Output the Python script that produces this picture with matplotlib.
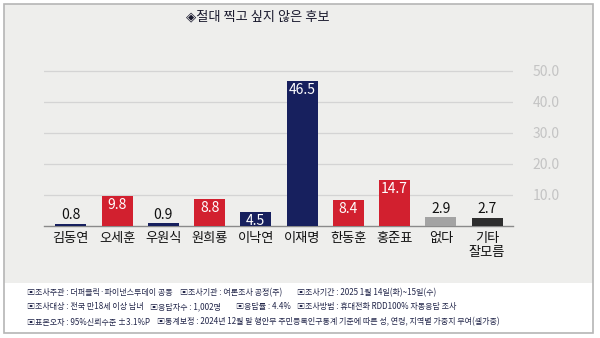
import matplotlib
matplotlib.use('Agg')
import matplotlib.pyplot as plt
from matplotlib.patches import Rectangle

plt.rcParams['font.family'] = ['Noto Sans CJK KR', 'DejaVu Sans']

categories = ['김동연', '오세훈', '우원식', '원희룡', '이낙연', '이재명', '한동훈', '홍준표', '없다', '기타\n잘모름']
values = [0.8, 9.8, 0.9, 8.8, 4.5, 46.5, 8.4, 14.7, 2.9, 2.7]
bar_colors = ['#17205e', '#d2202f', '#17205e', '#d2202f', '#17205e', '#17205e',
              '#d2202f', '#d2202f', '#a3a3a3', '#2e2e2e']
yticks = [10, 20, 30, 40, 50]
ytick_labels = ['10.0', '20.0', '30.0', '40.0', '50.0']
title = '◈절대 찍고 싶지 않은 후보'
footer_lines = [
    ['▣조사주관 : 더퍼블릭·파이낸스투데이 공동', '▣조사기관 : 여론조사 공정(주)', '▣조사기간 : 2025 1월 14일(화)~15일(수)'],
    ['▣조사대상 : 전국 만18세 이상 남녀', '▣응답자수 : 1,002명', '▣응답률 : 4.4%', '▣조사방법 : 휴대전화 RDD100% 자동응답 조사'],
    ['▣표본오차 : 95%신뢰수준 ±3.1%P', '▣통계보정 : 2024년 12월 말 행안부 주민등록인구통계 기준에 따른 성, 연령, 지역별 가중치 부여(셀가중)'],
]
footer_x = [[27, 180, 297], [27, 150, 236, 297], [27, 157]]
footer_y = [293, 307, 322]

W, H = 600, 338
fig = plt.figure(figsize=(6, 3.38), dpi=100)
fig.patch.set_facecolor('white')

def fx(x):
    return x / W

def fy(y):
    return 1 - y / H

# background panels
fig.patches.append(Rectangle((fx(4), fy(283)), fx(593) - fx(4), fy(4) - fy(283),
                             transform=fig.transFigure, facecolor='#eeeeec', edgecolor='none', zorder=-2))
fig.patches.append(Rectangle((fx(4), fy(333)), fx(593) - fx(4), fy(4) - fy(333),
                             transform=fig.transFigure, facecolor='none', edgecolor='#b5b5b5',
                             linewidth=1.2, zorder=-1))

# axes
ymax = 52
scale = (226 - 70.5) / 50.0
top_px = 226 - ymax * scale
ax = fig.add_axes([fx(44), fy(226), fx(513) - fx(44), fy(top_px) - fy(226)])
ax.set_zorder(2)
ax.set_facecolor('none')
x = list(range(len(categories)))
bars = ax.bar(x, values, width=0.67, color=bar_colors, zorder=3)
ax.set_xlim(-0.58, 9.56)
ax.set_ylim(0, ymax)
for s in ['top', 'left', 'right']:
    ax.spines[s].set_visible(False)
ax.spines['bottom'].set_color('#8a8a8a')
ax.spines['bottom'].set_linewidth(1.0)
ax.set_yticks(yticks)
ax.yaxis.tick_right()
ax.set_yticklabels(ytick_labels, color='#c4c4c4', fontsize=10)
ax.tick_params(axis='y', length=0, pad=14)
for lab in ax.get_yticklabels():
    lab.set_horizontalalignment('left')
ax.grid(axis='y', color='#d4d4d4', linewidth=0.9, zorder=0)
ax.set_axisbelow(True)
ax.set_xticks(x)
ax.set_xticklabels(categories, fontsize=9.5, color='#111111', linespacing=1.1, va='top')
ax.tick_params(axis='x', length=0, pad=4)

for xi, v in zip(x, values):
    if v > 3:
        ax.annotate(f'{v:.1f}', (xi, v), xytext=(0, -1.5), textcoords='offset points',
                    ha='center', va='top', color='white', fontsize=10, zorder=4)
    else:
        ax.annotate(f'{v:.1f}', (xi, v), xytext=(0, 1), textcoords='offset points',
                    ha='center', va='bottom', color='#111111', fontsize=10, zorder=4)

fig.text(fx(258), fy(17), title, ha='center', va='center', fontsize=9.5, color='#1a1a2e')

for line, xs, yy in zip(footer_lines, footer_x, footer_y):
    for t, xx in zip(line, xs):
        fig.text(fx(xx), fy(yy), t, ha='left', va='center', fontsize=5.8, color='#22264a')

fig.savefig('out.png', dpi=100, facecolor=fig.get_facecolor())
